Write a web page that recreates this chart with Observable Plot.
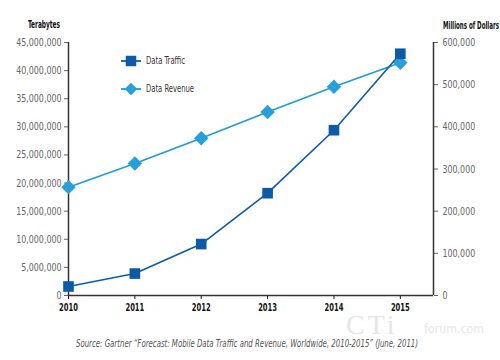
<!DOCTYPE html>
<html>
<head>
<meta charset="utf-8">
<script src="https://cdn.jsdelivr.net/npm/d3@7"></script>
<script src="https://cdn.jsdelivr.net/npm/@observablehq/plot@0.6"></script>
<style>
  html, body { margin: 0; padding: 0; background: #fff; }
  #wrap { position: relative; width: 500px; height: 360px; overflow: hidden;
          font-family: "DejaVu Sans Condensed", "Liberation Sans", sans-serif; }
  .ov { position: absolute; white-space: nowrap; transform-origin: 0 0; }
</style>
</head>
<body>
<div id="wrap"></div>
<script>
const years = [2010, 2011, 2012, 2013, 2014, 2015];
const trafficTB = [1.6e6, 3.9e6, 9.15e6, 18.2e6, 29.4e6, 43.0e6];
const revenueM = [257000, 313000, 373000, 435000, 495000, 552000];
const leftTicks = [0, 5e6, 10e6, 15e6, 20e6, 25e6, 30e6, 35e6, 40e6, 45e6];
const rightTicks = [0, 100000, 200000, 300000, 400000, 500000, 600000];
const xDomain = [2010, 2015.5];
const yDomain = [0, 45e6];
const ratio = yDomain[1] / rightTicks[rightTicks.length - 1];

const trafficColor = "#0d5ba6";
const revenueColor = "#1f9bd7";
const fmt = d3.format(",");

const traffic = years.map((y, i) => ({year: y, v: trafficTB[i]}));
const revenue = years.map((y, i) => ({year: y, v: revenueM[i] * ratio}));

const chart = Plot.plot({
  width: 500,
  height: 360,
  marginTop: 42,
  marginBottom: 65,
  marginLeft: 68,
  marginRight: 67,
  style: {fontFamily: '"DejaVu Sans Condensed", sans-serif', fontSize: "11px", background: "transparent"},
  x: {domain: xDomain},
  y: {domain: yDomain},
  marks: [
    Plot.axisY({ticks: leftTicks, tickFormat: fmt, tickSize: 4, tickPadding: 3, label: null, color: "#666", fontSize: 11, className: "ax-num"}),
    Plot.axisY({anchor: "right", ticks: rightTicks.map(v => v * ratio), tickFormat: d => fmt(Math.round(d / ratio)), tickSize: 4, tickPadding: 5, label: null, color: "#666", fontSize: 11, className: "ax-num"}),
    Plot.axisX({ticks: years, tickFormat: d => String(d), tickSize: 4, tickPadding: 4, label: null, fontWeight: "bold", fontSize: 10.5, color: "#111", className: "ax-year"}),
    Plot.ruleX(xDomain, {stroke: "#333", strokeWidth: 1.5}),
    Plot.ruleY([yDomain[0]], {stroke: "#333", strokeWidth: 1.5}),
    Plot.line(revenue, {x: "year", y: "v", stroke: revenueColor, strokeWidth: 1.6}),
    Plot.dot(revenue, {x: "year", y: "v", symbol: "diamond2", r: 6.5, fill: "#27a0da", stroke: "none"}),
    Plot.line(traffic, {x: "year", y: "v", stroke: trafficColor, strokeWidth: 1.6}),
    Plot.dot(traffic, {x: "year", y: "v", symbol: "square", r: 6, fill: "#0d5aa7", stroke: "none"})
  ]
});

const wrap = document.getElementById("wrap");
wrap.appendChild(chart);
chart.style.position = "absolute";
chart.style.left = "0";
chart.style.top = "0";

// compress tick label glyphs horizontally to mimic the narrow font of the original
function squeeze(sel, f) {
  chart.querySelectorAll(sel).forEach(t => {
    const len = t.getComputedTextLength();
    t.setAttribute("textLength", (len * f).toFixed(1));
    t.setAttribute("lengthAdjust", "spacingAndGlyphs");
  });
}
squeeze(".ax-num text", 0.8);
squeeze(".ax-year text", 0.72);

function ov(html, css, targetWidth) {
  const d = document.createElement("div");
  d.className = "ov";
  d.innerHTML = html;
  Object.assign(d.style, css);
  wrap.appendChild(d);
  if (targetWidth) {
    const w = d.getBoundingClientRect().width;
    d.style.transform = `scaleX(${targetWidth / w})`;
  }
  return d;
}

ov("Terabytes", {left: "28px", top: "18px", fontSize: "10.5px", fontWeight: "bold", color: "#111"}, 32);
ov("Millions of Dollars", {left: "443px", top: "19px", fontSize: "10.5px", fontWeight: "bold", color: "#111"}, 56);

// watermark
ov("CTi", {left: "346px", top: "314px", fontSize: "28px", lineHeight: "21px", color: "#e6e6e6", fontFamily: '"Liberation Serif", serif', letterSpacing: "3px"});
ov("forum.com", {left: "424px", top: "322px", fontSize: "13px", lineHeight: "13px", color: "#e6e6e6", fontFamily: '"DejaVu Sans", sans-serif'}, 60);

ov("Source: Gartner \u201cForecast: Mobile Data Traffic and Revenue, Worldwide, 2010-2015\u201d (June, 2011)",
   {left: "76px", top: "337px", fontSize: "10.5px", fontStyle: "italic", color: "#555"}, 342);

// legend
const legendItems = [
  {label: "Data Traffic", color: trafficColor, fill: "#0d5aa7", size: 110, rot: 0, w: 39},
  {label: "Data Revenue", color: revenueColor, fill: "#27a0da", size: 80, rot: 45, w: 48}
];
legendItems.forEach((it, i) => {
  const path = d3.symbol(d3.symbolSquare, it.size)();
  ov(`<svg width="22" height="16"><line x1="1" x2="21" y1="8" y2="8" stroke="${it.color}" stroke-width="1.8"/><path d="${path}" transform="translate(11,8) rotate(${it.rot})" fill="${it.fill}"/></svg>`,
     {left: "120px", top: (53 + i * 28) + "px"});
  ov(it.label, {left: "146px", top: (54 + i * 28) + "px", fontSize: "11px", color: "#333"}, it.w);
});
</script>
</body>
</html>
